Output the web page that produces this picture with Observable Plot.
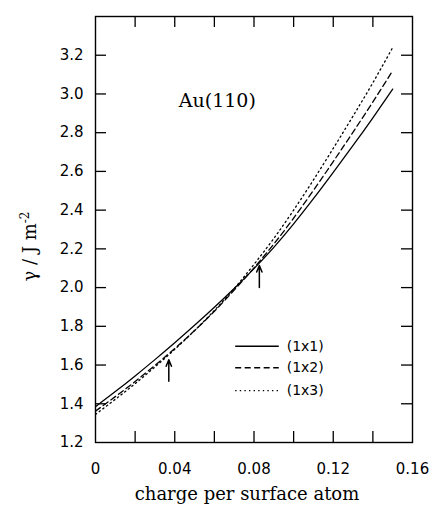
<!DOCTYPE html>
<html>
<head>
<meta charset="utf-8">
<script src="https://cdn.jsdelivr.net/npm/d3@7"></script>
<script src="https://cdn.jsdelivr.net/npm/@observablehq/plot@0.6"></script>
<style>
  html, body { margin: 0; padding: 0; background: #fff; }
  #chart svg { display: block; }
</style>
</head>
<body>
<div id="chart"></div>
<script>
// ---- data ----
const charge = [0, 0.01, 0.02, 0.03, 0.04, 0.05, 0.06, 0.07, 0.08, 0.09, 0.10, 0.11, 0.12, 0.13, 0.14, 0.15];
const gamma1x1 = [1.385, 1.463, 1.544, 1.628, 1.715, 1.805, 1.898, 1.995, 2.098, 2.208, 2.329, 2.459, 2.595, 2.734, 2.877, 3.025];
const gamma1x2 = [1.362, 1.437, 1.515, 1.598, 1.685, 1.778, 1.878, 1.987, 2.102, 2.225, 2.359, 2.502, 2.651, 2.803, 2.959, 3.120];
const gamma1x3 = [1.345, 1.423, 1.504, 1.590, 1.681, 1.778, 1.882, 1.995, 2.120, 2.254, 2.400, 2.556, 2.719, 2.886, 3.058, 3.240];
const seriesNames = ["(1x1)", "(1x2)", "(1x3)"];
const xTickValues = [0.02, 0.04, 0.06, 0.08, 0.10, 0.12, 0.14];
const xTickLabels = [0, 0.04, 0.08, 0.12, 0.16];
const yTickValues = [1.4, 1.6, 1.8, 2.0, 2.2, 2.4, 2.6, 2.8, 3.0, 3.2];
const yTickLabels = [1.2, 1.4, 1.6, 1.8, 2.0, 2.2, 2.4, 2.6, 2.8, 3.0, 3.2];
const arrowCharge = [0.037, 0.0827];
const arrowFrom = [1.516, 2.0];
const arrowTo = [1.627, 2.114];
const panelLabel = "Au(110)";
const xLabel = "charge per surface atom";
const yLabel = "γ / J m-2";

// ---- layout ----
const W = 429, H = 510;
const mL = 95, mR = 17, mT = 16, mB = 68;
const tick = 11;
const panelLabelPos = {x: 0.0615, y: 2.965};
const legendX = [0.0705, 0.0925, 0.0965];
const legendY = [1.697, 1.586, 1.468];
const dashes = [null, "6,3.5", "1.4,3.2"];

const seriesValues = [gamma1x1, gamma1x2, gamma1x3];
const rows = seriesValues.map((vals, i) => charge.map((q, j) => ({q, g: vals[j], s: seriesNames[i]})));
const arrows = arrowCharge.map((q, i) => ({q, y1: arrowFrom[i], y2: arrowTo[i]}));
const legendRows = seriesNames.map((s, i) => ({s, y: legendY[i], dash: dashes[i]}));

const sans = "DejaVu Sans, sans-serif";
const serif = "DejaVu Serif, serif";

const plot = Plot.plot({
  width: W, height: H,
  marginLeft: mL, marginRight: mR, marginTop: mT, marginBottom: mB,
  style: {fontFamily: sans, fontSize: "15px", color: "black", background: "white"},
  x: {domain: [0, 0.16], label: null},
  y: {domain: [1.2, 3.4], label: null},
  marks: [
    // inward ticks on all four sides
    Plot.tickX(xTickValues, {x: d => d, insetTop: H - mT - mB - tick, stroke: "black", strokeWidth: 1.3}),
    Plot.tickX(xTickValues, {x: d => d, insetBottom: H - mT - mB - tick, stroke: "black", strokeWidth: 1.3}),
    Plot.tickY(yTickValues, {y: d => d, insetRight: W - mL - mR - tick, stroke: "black", strokeWidth: 1.3}),
    Plot.tickY(yTickValues, {y: d => d, insetLeft: W - mL - mR - tick, stroke: "black", strokeWidth: 1.3}),
    Plot.axisX(xTickLabels, {tickSize: 0, tickPadding: 21, fontSize: 15, fontFamily: sans, tickFormat: d => d === 0 ? "0" : d3.format(".2f")(d)}),
    Plot.axisY(yTickLabels, {tickSize: 0, tickPadding: 12, fontSize: 15, fontFamily: sans, tickFormat: d3.format(".1f")}),
    // curves
    ...rows.map((r, i) => Plot.line(r, {x: "q", y: "g", stroke: "black", strokeWidth: 1.3, strokeDasharray: dashes[i], curve: "natural"})),
    // arrows
    Plot.arrow(arrows, {x1: "q", x2: "q", y1: "y1", y2: "y2", stroke: "black", strokeWidth: 1.5, headLength: 7, headAngle: 45}),
    // legend
    ...legendRows.map(r => Plot.link([r], {x1: () => legendX[0], x2: () => legendX[1], y1: "y", y2: "y", stroke: "black", strokeWidth: 1.3, strokeDasharray: r.dash})),
    Plot.text(legendRows, {x: () => legendX[2], y: "y", text: "s", textAnchor: "start", fontSize: 14, fontFamily: sans, fill: "black"}),
    // panel label
    Plot.text([panelLabel], {x: () => panelLabelPos.x, y: () => panelLabelPos.y, text: d => d, fontSize: 19, fontFamily: serif, fill: "black"}),
    // axis titles
    Plot.text([xLabel], {frameAnchor: "bottom", dx: -7, dy: 57, text: d => d, fontSize: 18, fontFamily: serif, fill: "black"}),
    Plot.text([yLabel], {frameAnchor: "left", dx: -65, dy: 17, rotate: -90, text: d => d, fontSize: 18, fontFamily: serif, fill: "black", textAnchor: "middle"}),
    Plot.frame({stroke: "black", strokeWidth: 1.4})
  ]
});

// superscript for the y label unit
plot.querySelectorAll("text").forEach(t => {
  if (t.textContent === yLabel) {
    t.textContent = "";
    t.setAttribute("text-anchor", "middle");
    const ns = "http://www.w3.org/2000/svg";
    const a = document.createElementNS(ns, "tspan");
    a.textContent = "γ / J m";
    const b = document.createElementNS(ns, "tspan");
    b.textContent = "-2";
    b.setAttribute("baseline-shift", "super");
    b.setAttribute("font-size", "12");
    t.appendChild(a); t.appendChild(b);
  }
});

document.getElementById("chart").appendChild(plot);
</script>
</body>
</html>
